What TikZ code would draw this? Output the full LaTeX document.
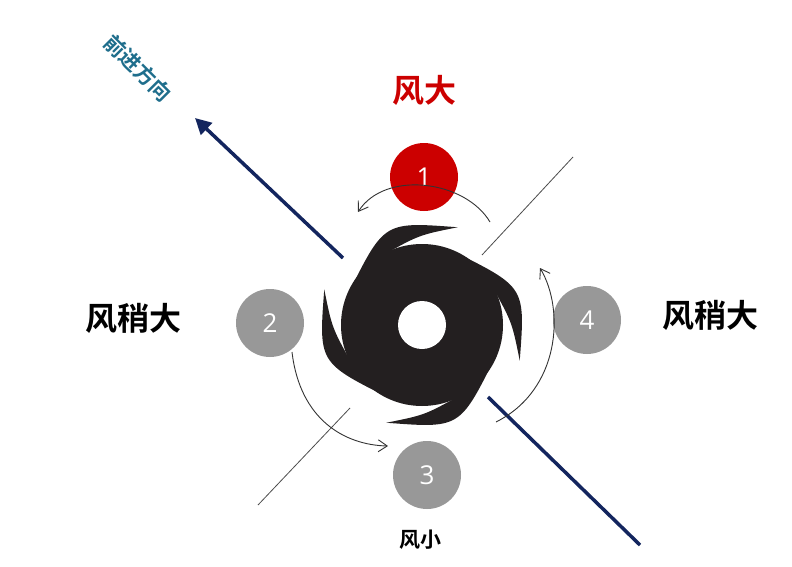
\documentclass[tikz,border=0pt]{standalone}
\usepackage{fontspec}
\newfontfamily\cjk{Noto Sans CJK SC}[BoldFont={Noto Sans CJK SC Bold}]
\setmainfont{Open Sans}
\usetikzlibrary{arrows.meta}
\definecolor{navy}{HTML}{13255E}
\definecolor{teal}{HTML}{1F6E8C}
\definecolor{redc}{HTML}{CC0000}
\definecolor{storm}{HTML}{231F20}
\tikzset{
  zone/.style={circle,fill=gray!85!black!70,minimum size=68pt,inner sep=0pt,text=white,font=\fontsize{26}{28}\selectfont},
  hot zone/.style={zone,fill=redc},
  wind/.style={font=\cjk\bfseries\fontsize{32}{34}\selectfont},
  turn/.style={draw=black!80,line width=0.9pt,-{Straight Barb[length=9pt,width=12pt]}},
  guide/.style={draw=black!70,line width=0.8pt},
  track/.style={draw=navy,line width=3.5pt}
}
\begin{document}
\begin{tikzpicture}[x=1pt,y=-1pt]
\useasboundingbox (0,0) rectangle (792,567);

% hurricane symbol
\begin{scope}[shift={(422,325)},yscale=-1]
  \fill[storm] (0,0) circle (81);
  \foreach \t in {70,160,250,340}
    \fill[storm] (\t+85:80) .. controls (\t+40:110) .. (\t:104) .. controls (\t+22:90) .. (\t+50:80) -- cycle;
  \fill[white] (0,0) circle (24);
\end{scope}

% direction of motion
\coordinate (tail) at (640,545);
\coordinate (trackin) at (488,397);
\coordinate (trackout) at (343,258);
\coordinate (head) at (195,118);
\draw[track] (tail) -- (trackin);
\draw[track,-{Triangle[length=16pt,width=16pt]}] (trackout) -- (head);
\node[font=\cjk\bfseries\fontsize{21}{23}\selectfont,text=teal,rotate=-45] (dir) at (138,68) {前进方向};

% thin guide lines
\coordinate (g1a) at (573,157);
\coordinate (g1b) at (482,255);
\coordinate (g2a) at (350,408);
\coordinate (g2b) at (258,505);
\draw[guide] (g1a) -- (g1b);
\draw[guide] (g2a) -- (g2b);

% quadrants
\node[hot zone] (q1) at (424,177) {1};
\node[zone] (q2) at (270,323) {2};
\node[zone] (q3) at (427,475) {3};
\node[zone] (q4) at (587,320) {4};

\node[wind,text=redc] (w1) at (424,90) {风大};
\node[wind] (w2) at (133,318) {风稍大};
\node[wind] (w4) at (710,315) {风稍大};
\node[wind,font=\cjk\bfseries\fontsize{21}{23}\selectfont] (w3) at (420,540) {风小};

% rotation arrows
\coordinate (r1a) at (490,222);
\coordinate (r1b) at (358,212);
\coordinate (r2a) at (292,352);
\coordinate (r2b) at (388,446);
\coordinate (r4a) at (496,422);
\coordinate (r4b) at (540,268);
\draw[turn] (r1a) .. controls (465,180) and (385,170) .. (r1b);
\draw[turn] (r2a) .. controls (300,420) and (345,445) .. (r2b);
\draw[turn] (r4a) .. controls (560,390) and (565,310) .. (r4b);
\end{tikzpicture}
\end{document}
